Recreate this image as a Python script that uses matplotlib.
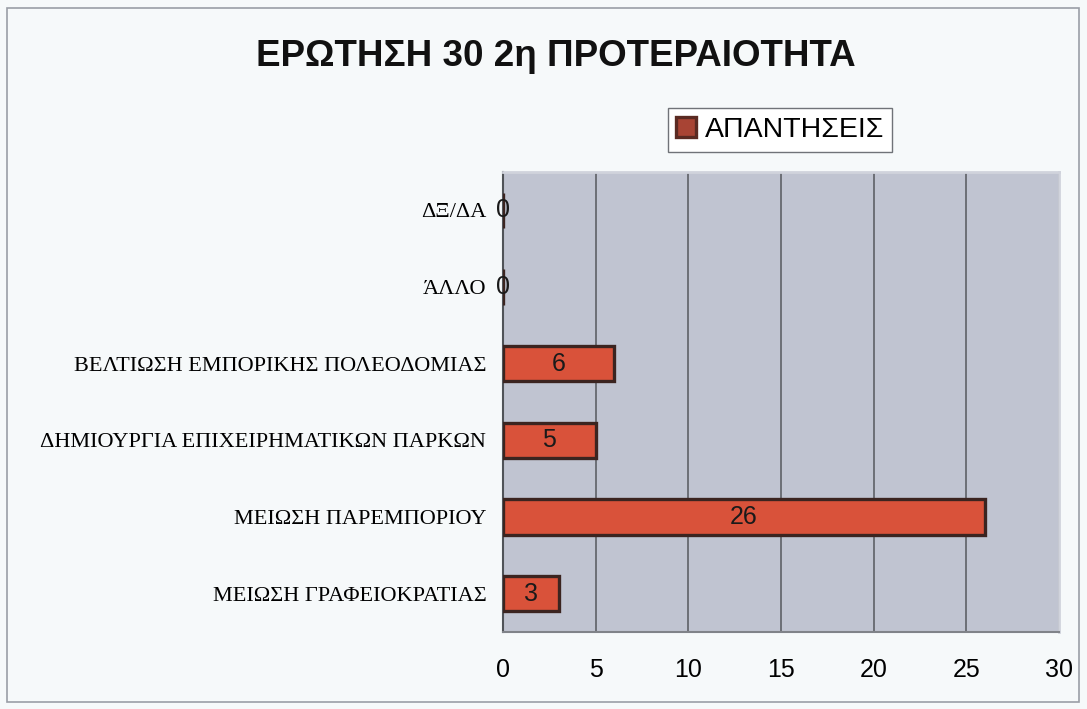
import matplotlib
matplotlib.use("Agg")
import matplotlib.pyplot as plt
from matplotlib.patches import Rectangle

# answers to question 30, second priority (bottom to top)
categories = ["ΜΕΙΩΣΗ ΓΡΑΦΕΙΟΚΡΑΤΙΑΣ", "ΜΕΙΩΣΗ ΠΑΡΕΜΠΟΡΙΟΥ",
              "ΔΗΜΙΟΥΡΓΙΑ ΕΠΙΧΕΙΡΗΜΑΤΙΚΩΝ ΠΑΡΚΩΝ",
              "ΒΕΛΤΙΩΣΗ ΕΜΠΟΡΙΚΗΣ ΠΟΛΕΟΔΟΜΙΑΣ", "ΆΛΛΟ", "ΔΞ/ΔΑ"]
answers = [3, 26, 5, 6, 0, 0]
xticks = [0, 5, 10, 15, 20, 25, 30]

sans = "Liberation Sans"
serif = "Liberation Serif"

fig = plt.figure(figsize=(10.87, 7.09), dpi=100, facecolor="#f6f9fa")
# outer frame of the chart
fig.patches.append(Rectangle((7/1087, 1 - 702/709), 1079/1087 - 7/1087, 694/709,
                             transform=fig.transFigure, fill=False,
                             edgecolor="#9a9ea6", lw=1.2))

ax = fig.add_axes([503/1087, 1 - 632/709, (1059 - 503)/1087, (632 - 172)/709])
ax.set_facecolor("#c0c4d1")

y = range(len(categories))
ax.barh(y, answers, height=0.46, color="#d9523a", edgecolor="#3b2420",
        linewidth=2.4, zorder=3, label="ΑΠΑΝΤΗΣΕΙΣ")

for yi, v in zip(y, answers):
    ax.text(v / 2, yi, str(v), ha="center", va="center", fontsize=18,
            family=sans, color="#1a1a1a", zorder=4)

ax.set_xlim(0, 30)
ax.set_ylim(-0.5, len(categories) - 0.5)
ax.set_xticks(xticks)
ax.set_xticklabels([str(t) for t in xticks], fontsize=18, family=sans)
ax.set_yticks(list(y))
ax.set_yticklabels(categories, fontsize=16, family=serif)
ax.tick_params(axis="x", length=0, pad=19)
ax.tick_params(axis="y", length=0, pad=12)
ax.xaxis.grid(True, color="#55585e", lw=1.1, zorder=1)
ax.set_axisbelow(True)

for side in ["top", "right"]:
    ax.spines[side].set_color("#d0d3dc")
    ax.spines[side].set_linewidth(2)
ax.spines["left"].set_color("#505358")
ax.spines["left"].set_linewidth(1.5)
ax.spines["bottom"].set_color("#808389")
ax.spines["bottom"].set_linewidth(1.5)

fig.text(556/1087, 1 - 57/709, "ΕΡΩΤΗΣΗ 30 2η ΠΡΟΤΕΡΑΙΟΤΗΤΑ", ha="center",
         va="center", fontsize=26.5, fontweight="bold", family=sans, color="#111111")

leg = fig.legend(loc="center", bbox_to_anchor=(780/1087, 1 - 130/709),
                 prop={"family": sans, "size": 20.5}, handlelength=0.7,
                 handleheight=0.7, handletextpad=0.3, borderpad=0.3,
                 fancybox=False, framealpha=1)
leg.get_frame().set_edgecolor("#707378")
leg.get_frame().set_facecolor("#ffffff")
for h in leg.legend_handles:
    h.set_facecolor("#a84434")
    h.set_edgecolor("#5a2a22")

fig.savefig("out.png", dpi=100, facecolor=fig.get_facecolor())
